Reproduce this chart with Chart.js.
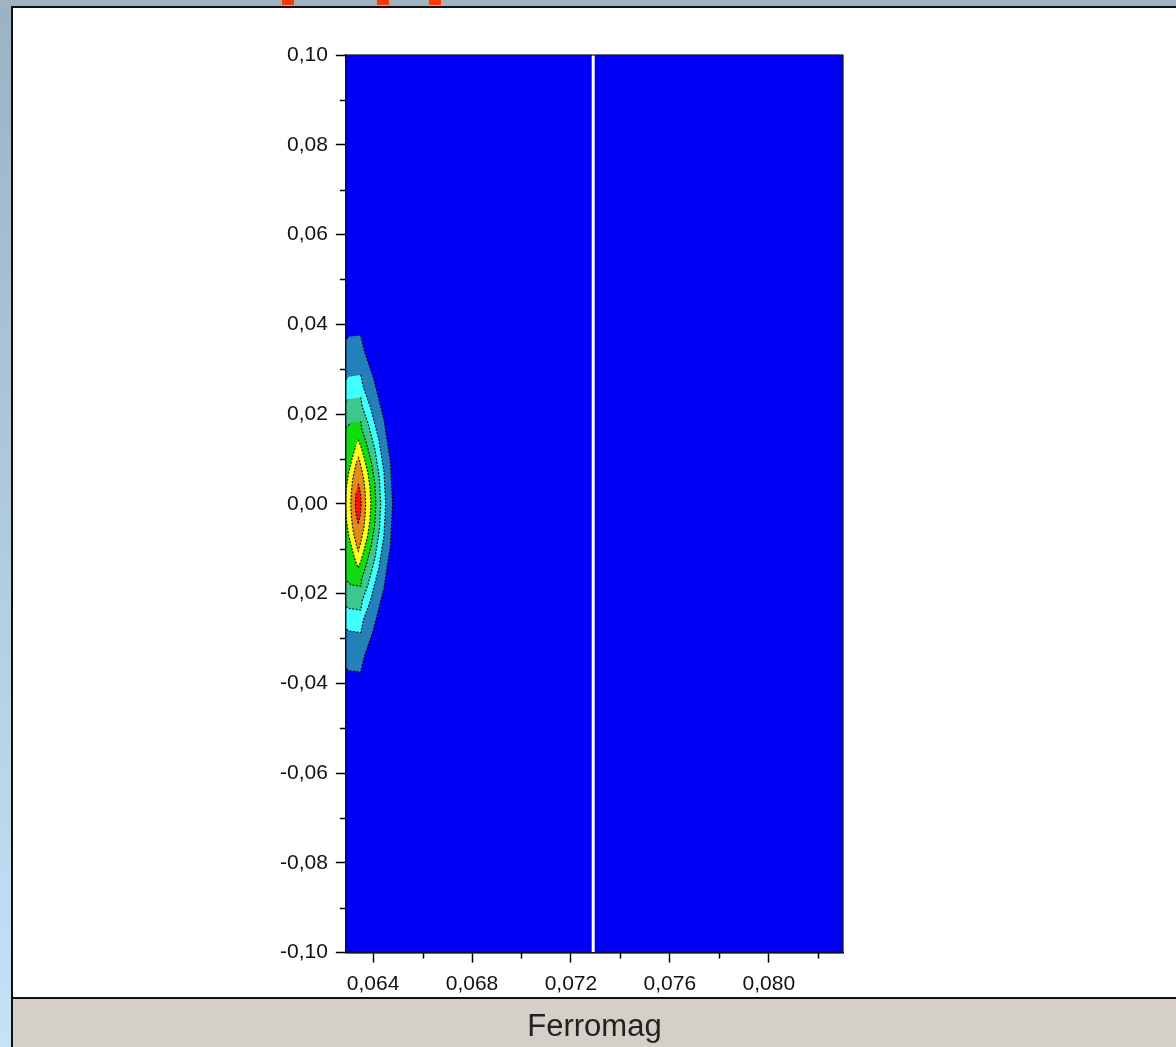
<!DOCTYPE html>
<html><head><meta charset="utf-8">
<script src="https://cdn.jsdelivr.net/npm/chart.js@4.4.1/dist/chart.umd.min.js"></script>
<style>
html,body{margin:0;padding:0;width:1176px;height:1047px;overflow:hidden;background:linear-gradient(#9cb2c3,#c4e3f7);}
#top{position:absolute;left:0;top:0;width:1176px;height:6px;background:#9fb3c3;}
.mark{position:absolute;top:0;height:5px;background:#ff3a00;}
#panel{position:absolute;left:11px;top:6px;width:1165px;height:1041px;background:#fff;border-left:2px solid #111;border-top:2px solid #111;box-sizing:border-box;}
#bar{position:absolute;left:11px;top:997px;width:1165px;height:50px;background:#d4d0c8;border-left:2px solid #111;border-top:2px solid #111;box-sizing:border-box;}
canvas{position:absolute;left:0;top:0;}
</style></head>
<body>
<div id="top"></div>
<div class="mark" style="left:282px;width:12px"></div>
<div class="mark" style="left:377px;width:12px"></div>
<div class="mark" style="left:429px;width:12px"></div>
<div id="panel"></div>
<div id="bar"></div>
<canvas id="c" width="1176" height="1047"></canvas>
<script>
// ---- data ----
const xRange = [0.0629, 0.0830];
const yRange = [-0.10, 0.10];
const xTickValues = [0.064,0.066,0.068,0.070,0.072,0.074,0.076,0.078,0.080,0.082];
const xTickLabels = ['0,064','','0,068','','0,072','','0,076','','0,080',''];
const yTickValues = [-0.10,-0.09,-0.08,-0.07,-0.06,-0.05,-0.04,-0.03,-0.02,-0.01,0,0.01,0.02,0.03,0.04,0.05,0.06,0.07,0.08,0.09,0.10];
const yTickLabels = ['-0,10','','-0,08','','-0,06','','-0,04','','-0,02','','0,00','','0,02','','0,04','','0,06','','0,08','','0,10'];
const gapX = 0.0729;

const level1 = [[0.0635,0.0375],[0.06366,0.0338],[0.06401,0.0282],[0.06444,0.0188],[0.06470,0.0094],[0.06479,0],
 [0.06470,-0.0094],[0.06444,-0.0188],[0.06401,-0.0282],[0.06366,-0.0338],[0.0635,-0.0375],
 [0.0630,-0.0372],[0.0627,-0.0350],[0.0627,0.0350],[0.0630,0.0372]];
const level2 = [[0.0635,0.0287],[0.06361,0.0259],[0.06389,0.0216],[0.06423,0.0144],[0.06444,0.0072],[0.06451,0],
 [0.06444,-0.0072],[0.06423,-0.0144],[0.06389,-0.0216],[0.06361,-0.0259],[0.0635,-0.0287],
 [0.0630,-0.0283],[0.0627,-0.0265],[0.0627,0.0265],[0.0630,0.0283]];
const level3 = [[0.0635,0.0237],[0.06357,0.0215],[0.06380,0.0179],[0.06408,0.0120],[0.06425,0.0060],[0.06431,0],
 [0.06425,-0.0060],[0.06408,-0.0120],[0.06380,-0.0179],[0.06357,-0.0215],[0.0635,-0.0237],
 [0.0630,-0.0233],[0.0627,-0.0215],[0.0627,0.0215],[0.0630,0.0233]];
const level4 = [[0.0635,0.0184],[0.06354,0.0167],[0.06371,0.0139],[0.06393,0.0093],[0.06407,0.0046],[0.06411,0],
 [0.06407,-0.0046],[0.06393,-0.0093],[0.06371,-0.0139],[0.06354,-0.0167],[0.0635,-0.0184],
 [0.0631,-0.0180],[0.0628,-0.0165],[0.0628,0.0165],[0.0631,0.0180]];
const level5 = [[0.0634,0.0143],[0.06350,0.0129],[0.06362,0.0107],[0.06378,0.0072],[0.06388,0.0036],[0.06391,0],
 [0.06388,-0.0036],[0.06378,-0.0072],[0.06362,-0.0107],[0.06350,-0.0129],[0.0634,-0.0143],
 [0.06330,-0.0129],[0.06318,-0.0107],[0.06302,-0.0072],[0.06292,-0.0036],[0.06289,0],
 [0.06292,0.0036],[0.06302,0.0072],[0.06318,0.0107],[0.06330,0.0129]];
const level6 = [[0.0634,0.0105],[0.06346,0.0095],[0.06353,0.0079],[0.06363,0.0053],[0.06368,0.0026],[0.06370,0],
 [0.06368,-0.0026],[0.06363,-0.0053],[0.06353,-0.0079],[0.06346,-0.0095],[0.0634,-0.0105],
 [0.06334,-0.0095],[0.06327,-0.0079],[0.06317,-0.0053],[0.06312,-0.0026],[0.06310,0],
 [0.06312,0.0026],[0.06317,0.0053],[0.06327,0.0079],[0.06334,0.0095]];
const level7 = [[0.0634,0.0045],[0.06349,0.0023],[0.06352,0],[0.06349,-0.0023],[0.0634,-0.0045],[0.06331,-0.0023],[0.06328,0],[0.06331,0.0023]];

const levels = [level7, level6, level5, level4, level3, level2, level1];
const levelColors = ['#ff1010','#e08a20','#ffff20','#10dd10','#3cc88c','#40ffff','#2380b8'];

// ---- chart ----
const FONT = "'Liberation Sans', Arial, sans-serif";
const datasets = [{
  data: [{x: gapX, y: yRange[0]}, {x: gapX, y: yRange[1]}],
  showLine: true, borderColor: '#ffffff', borderWidth: 3, pointRadius: 0, fill: false, clip: 0
}];
levels.forEach((lv, i) => {
  datasets.push({
    data: lv.map(p => ({x: p[0], y: p[1]})),
    showLine: true, fill: 'shape', backgroundColor: levelColors[i],
    borderColor: 'rgba(0,0,0,0.85)', borderWidth: 1.2, borderDash: [2, 1.5],
    pointRadius: 0, tension: 0, clip: 0
  });
});

const bgPlugin = {
  id: 'bg',
  beforeDatasetsDraw(chart) {
    const a = chart.chartArea, c = chart.ctx;
    c.save(); c.fillStyle = '#0000f5'; c.fillRect(a.left, a.top, a.right - a.left, a.bottom - a.top); c.restore();
  },
  afterDatasetsDraw(chart) {
    const a = chart.chartArea, c = chart.ctx;
    c.save(); c.strokeStyle = '#101030'; c.lineWidth = 1.2;
    c.strokeRect(a.left, a.top, a.right - a.left, a.bottom - a.top); c.restore();
  },
  afterDraw(chart) {
    const c = chart.ctx, a = chart.chartArea;
    c.save(); c.strokeStyle = '#000'; c.lineWidth = 1.5;
    xTickValues.forEach((v, i) => {
      if (xTickLabels[i]) return;
      const px = Math.round(chart.scales.x.getPixelForValue(v)) + 0.5;
      c.beginPath(); c.moveTo(px, a.bottom); c.lineTo(px, a.bottom + 6); c.stroke();
    });
    yTickValues.forEach((v, i) => {
      if (yTickLabels[i]) return;
      const py = Math.round(chart.scales.y.getPixelForValue(v)) + 0.5;
      c.beginPath(); c.moveTo(a.left, py); c.lineTo(a.left - 6, py); c.stroke();
    });
    c.restore();
  }
};

new Chart(document.getElementById('c'), {
  type: 'scatter',
  data: {datasets},
  options: {
    responsive: false, animation: false, devicePixelRatio: 1,
    layout: {padding: {left: 272, right: 333, top: 55, bottom: 1}},
    plugins: {legend: {display: false}, tooltip: {enabled: false}},
    scales: {
      x: {
        type: 'linear', min: xRange[0], max: xRange[1],
        afterBuildTicks: s => { s.ticks = xTickValues.map(v => ({value: v})); },
        ticks: {autoSkip: false, maxRotation: 0, padding: 9, color: '#111', font: {family: FONT, size: 21},
          callback: (v, i) => xTickLabels[i]},
        grid: {drawOnChartArea: false, tickLength: 10, tickWidth: 1.5,
          tickColor: ctx => xTickLabels[ctx.index] ? '#000' : 'rgba(0,0,0,0)'},
        border: {color: '#000', width: 1.5},
        title: {display: true, text: 'Ferromag', color: '#222', font: {family: FONT, size: 31},
          padding: {top: 3, bottom: 0}}
      },
      y: {
        type: 'linear', min: yRange[0], max: yRange[1],
        afterBuildTicks: s => { s.ticks = yTickValues.map(v => ({value: v})); },
        ticks: {autoSkip: false, padding: 8, color: '#111', font: {family: FONT, size: 21},
          callback: (v, i) => yTickLabels[i]},
        grid: {drawOnChartArea: false, tickLength: 10, tickWidth: 1.5,
          tickColor: ctx => yTickLabels[ctx.index] ? '#000' : 'rgba(0,0,0,0)'},
        border: {color: '#000', width: 1.5}
      }
    }
  },
  plugins: [bgPlugin]
});
</script>
</body></html>
